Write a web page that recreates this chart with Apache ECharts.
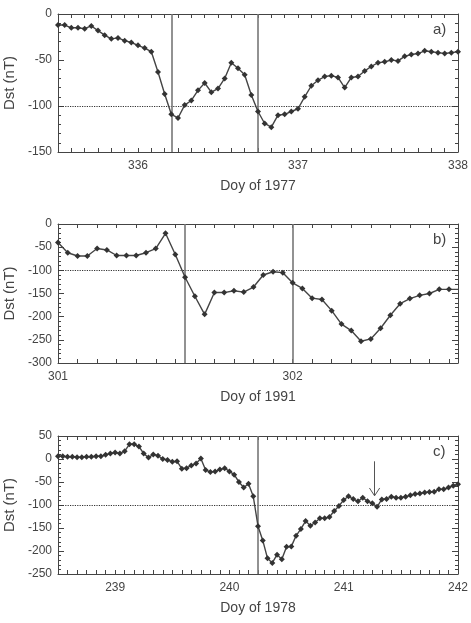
<!DOCTYPE html>
<html>
<head>
<meta charset="utf-8">
<script src="https://cdn.jsdelivr.net/npm/echarts@6/dist/echarts.min.js"></script>
<style>
html,body{margin:0;padding:0;background:#fff}
#chart{width:471px;height:623px}
</style>
</head>
<body>
<div id="chart"></div>
<script>
// a) 1977, hourly Dst from doy 335.5
var startA = 335.5
var dstA = [-12,-12,-15,-15,-16,-13,-18,-23,-27,-26,
  -29,-31,-34,-37,-41,-63,-87,-109,-113,-99,
  -94,-83,-75,-85,-81,-70,-53,-59,-66,-88,
  -106,-119,-123,-110,-109,-106,-103,-90,-78,-72,
  -68,-67,-69,-80,-69,-68,-62,-57,-53,-52,
  -50,-51,-46,-44,-43,-40,-41,-42,-43,-42,-41]
var linesA = [336.208, 336.75]

// b) 1991, hourly Dst from doy 301
var startB = 301
var dstB = [-40,-62,-69,-69,-53,-56,-68,-68,-68,-62,
  -53,-20,-66,-115,-156,-195,-148,-148,-144,-147,
  -136,-110,-103,-105,-127,-139,-160,-163,-187,-216,
  -230,-253,-248,-225,-197,-172,-161,-154,-150,-141,
  -141,-141]
var linesB = [301.542, 302]

// c) 1978, hourly Dst from doy 238.5
var startC = 238.5
var dstC = [6,6,5,5,4,4,5,5,6,6,
  9,12,14,12,17,32,32,27,12,3,
  10,7,0,-2,-6,-5,-21,-20,-14,-10,
  1,-24,-28,-27,-23,-20,-27,-34,-50,-62,
  -54,-81,-146,-177,-216,-226,-208,-218,-191,-190,
  -167,-152,-135,-145,-138,-129,-129,-126,-113,-102,
  -89,-81,-87,-92,-84,-92,-96,-104,-88,-87,
  -82,-84,-84,-82,-79,-76,-75,-73,-72,-71,
  -66,-66,-62,-58,-55]
var linesC = [240.25]
var arrowC = {day: 241.27, from: -5, to: -80}

var xRanges = [[335.5, 338], [301, 302.705], [238.5, 242]]
var yRanges = [[-150, 0], [-300, 0], [-250, 50]]
var xNames = ['Doy of 1977', 'Doy of 1991', 'Doy of 1978']
var tags = ['a)', 'b)', 'c)']
var threshold = -100

var grids = [
  {left: 58, top: 14, width: 400, height: 138, outerBoundsMode: 'none', containLabel: false},
  {left: 58, top: 224, width: 400, height: 139, outerBoundsMode: 'none', containLabel: false},
  {left: 58, top: 436, width: 400, height: 138, outerBoundsMode: 'none', containLabel: false}
]

var textCol = '#444'
var frameCol = '#444'
var font = '"Liberation Sans", Arial, sans-serif'

function hourly(start, vals) {
  return vals.map(function (v, i) { return [start + i / 24, v] })
}
// ticks every 2 hours
function ticks2h(min, max) {
  var out = []
  for (var k = Math.ceil(min * 12 - 1e-6); k <= max * 12 + 1e-6; k++) out.push(Math.round(k / 12 * 1e6) / 1e6)
  return out
}
function dayTicks(min, max) {
  var out = []
  for (var d = Math.ceil(min - 1e-6); d <= max + 1e-6; d++) out.push(d)
  return out
}

var xAxis = [], yAxis = [], series = []
var starts = [startA, startB, startC]
var dsts = [dstA, dstB, dstC]
var vlines = [linesA, linesB, linesC]

for (var p = 0; p < 3; p++) {
  var xr = xRanges[p], yr = yRanges[p]
  var tk = ticks2h(xr[0], xr[1])
  // bottom
  xAxis.push({
    type: 'value', gridIndex: p, min: xr[0], max: xr[1], position: 'bottom',
    name: xNames[p], nameLocation: 'middle', nameGap: 27,
    nameTextStyle: {color: textCol, fontSize: 14, fontFamily: font},
    axisLine: {onZero: false, lineStyle: {color: frameCol, width: 1}},
    axisTick: {show: true, inside: true, length: 4, customValues: tk, lineStyle: {color: frameCol, width: 1}},
    axisLabel: {customValues: dayTicks(xr[0], xr[1]), margin: 8, color: textCol, fontSize: 12, fontFamily: font},
    splitLine: {show: false}
  })
  // top (mirror)
  xAxis.push({
    type: 'value', gridIndex: p, min: xr[0], max: xr[1], position: 'top',
    axisLine: {onZero: false, lineStyle: {color: frameCol, width: 1}},
    axisTick: {show: true, inside: true, length: 4, customValues: tk, lineStyle: {color: frameCol, width: 1}},
    axisLabel: {show: false},
    splitLine: {show: false}
  })
  // left
  yAxis.push({
    type: 'value', gridIndex: p, min: yr[0], max: yr[1], interval: 50, position: 'left',
    name: 'Dst (nT)', nameLocation: 'middle', nameGap: 31,
    nameTextStyle: {color: textCol, fontSize: 15, fontFamily: font},
    axisLine: {show: true, onZero: false, lineStyle: {color: frameCol, width: 1}},
    axisTick: {show: true, inside: true, length: 6, lineStyle: {color: frameCol, width: 1}},
    minorTick: {show: true, splitNumber: 5, length: 3, lineStyle: {color: frameCol, width: 1}},
    axisLabel: {margin: 6, color: textCol, fontSize: 12, fontFamily: font},
    splitLine: {show: false}
  })
  // right (mirror)
  yAxis.push({
    type: 'value', gridIndex: p, min: yr[0], max: yr[1], interval: 50, position: 'right',
    axisLine: {show: true, onZero: false, lineStyle: {color: frameCol, width: 1}},
    axisTick: {show: true, inside: true, length: 6, lineStyle: {color: frameCol, width: 1}},
    minorTick: {show: true, splitNumber: 5, length: 3, lineStyle: {color: frameCol, width: 1}},
    axisLabel: {show: false},
    splitLine: {show: false}
  })

  var ml = [{yAxis: threshold, lineStyle: {type: 'dotted', color: '#333', width: 1.2}}]
  vlines[p].forEach(function (d) {
    ml.push({xAxis: d, lineStyle: {type: 'solid', color: '#777', width: 1.6}})
  })
  if (p == 2) {
    var hw = 0.045, hh = 17
    ml.push([{coord: [arrowC.day, arrowC.from]}, {coord: [arrowC.day, arrowC.to]}])
    ml.push([{coord: [arrowC.day - hw, arrowC.to + hh]}, {coord: [arrowC.day, arrowC.to]}])
    ml.push([{coord: [arrowC.day + hw, arrowC.to + hh]}, {coord: [arrowC.day, arrowC.to]}])
  }

  series.push({
    type: 'line', xAxisIndex: p * 2, yAxisIndex: p * 2,
    data: hourly(starts[p], dsts[p]),
    symbol: 'diamond', symbolSize: 6,
    itemStyle: {color: '#333'},
    lineStyle: {color: '#444', width: 1.4},
    z: 5,
    markLine: {
      silent: true, symbol: 'none', label: {show: false},
      lineStyle: {color: '#555', width: 1, type: 'solid'},
      data: ml
    }
  })
}

var graphic = tags.map(function (t, i) {
  return {
    type: 'text', left: 433, top: grids[i].top + 8,
    style: {text: t, fill: textCol, fontSize: 15, fontFamily: font}
  }
})

var chart = echarts.init(document.getElementById('chart'))
chart.setOption({
  animation: false,
  backgroundColor: '#fff',
  grid: grids,
  xAxis: xAxis,
  yAxis: yAxis,
  series: series,
  graphic: graphic
})
</script>
</body>
</html>
